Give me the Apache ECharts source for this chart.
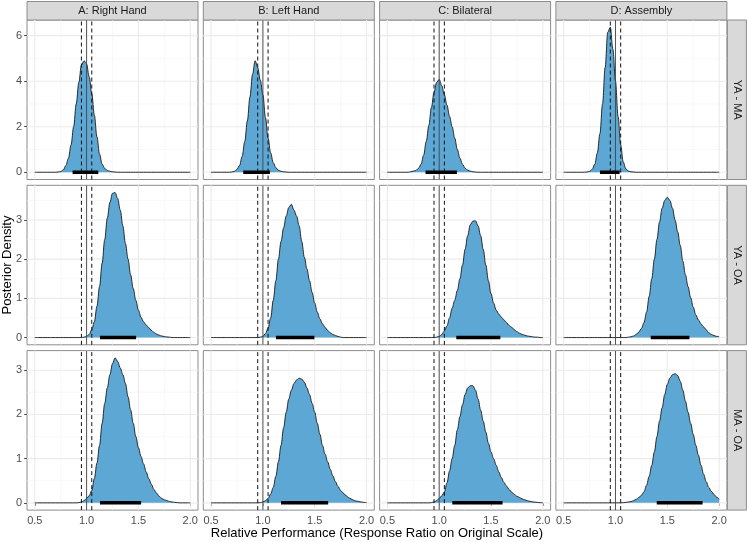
<!DOCTYPE html>
<html><head><meta charset="utf-8">
<script src="https://cdn.jsdelivr.net/npm/echarts@6/dist/echarts.min.js"></script>
<style>html,body{margin:0;padding:0;background:#fff}#c{width:747px;height:542px}</style>
</head><body><div id="c"></div>
<script>
// ---------------- DATA ----------------
const COL_LABELS = ['A: Right Hand', 'B: Left Hand', 'C: Bilateral', 'D: Assembly'];
const ROW_LABELS = ['YA - MA', 'YA - OA', 'MA - OA'];
const X_TITLE = 'Relative Performance (Response Ratio on Original Scale)';
const Y_TITLE = 'Posterior Density';

// density evaluation grid
const X = [0.5,0.525,0.55,0.575, 0.6,0.625,0.65,0.675, 0.7,0.725,0.75,0.775, 0.8,0.825,0.85,0.875,
  0.9,0.925,0.95,0.975, 1.0,1.025,1.05,1.075, 1.1,1.125,1.15,1.175, 1.2,1.225,1.25,1.275,
  1.3,1.325,1.35,1.375, 1.4,1.425,1.45,1.475, 1.5,1.525,1.55,1.575, 1.6,1.625,1.65,1.675,
  1.7,1.725,1.75,1.775, 1.8,1.825,1.85,1.875, 1.9,1.925,1.95,1.975, 2.0];

const X_TICKS = [0.5, 1.0, 1.5, 2.0];
const X_MINOR = [0.75, 1.25, 1.75];
const Y_TICKS = [[0, 2, 4, 6], [0, 1, 2, 3], [0, 1, 2, 3]];
const Y_MINOR = [[1, 3, 5], [0.5, 1.5, 2.5, 3.5], [0.5, 1.5, 2.5]];
const REF_SOLID = [1.0];
const REF_DASHED = [0.95, 1.05];

// Row YA - MA
const densA_YAMA = [0,0,0,0, 0,0,0,0, 0,0.01,0.03,0.1, 0.3,0.62,1.2,2.0, 3.0,3.95,4.7,4.9, 4.75,4.2,3.45,2.5, 1.55,0.8,0.35,0.17, 0.08,0.04,0.02,0.01, 0,0,0,0, 0,0,0,0, 0,0,0,0, 0,0,0,0, 0,0,0,0, 0,0,0,0, 0,0,0,0, 0];
const densB_YAMA = [0,0,0,0, 0,0,0,0, 0.01,0.04,0.12,0.3, 0.7,1.35,2.25,3.3, 4.3,4.9,4.6,4.05, 3.4,2.4,1.5,0.85, 0.42,0.2,0.09,0.04, 0.02,0.01,0,0, 0,0,0,0, 0,0,0,0, 0,0,0,0, 0,0,0,0, 0,0,0,0, 0,0,0,0, 0,0,0,0, 0];
const densC_YAMA = [0,0,0,0, 0,0,0,0, 0,0.02,0.05,0.08, 0.17,0.35,0.75,1.35, 2.05,2.85,3.5,3.95, 4.08,3.8,3.4,2.95, 2.45,2.0,1.5,1.0, 0.62,0.35,0.18,0.09, 0.05,0.02,0.01,0, 0,0,0,0, 0,0,0,0, 0,0,0,0, 0,0,0,0, 0,0,0,0, 0,0,0,0, 0];
const densD_YAMA = [0,0,0,0, 0,0,0,0, 0,0.01,0.04,0.12, 0.35,0.85,1.7,3.0, 4.6,6.15,6.37,5.4, 4.0,2.45,1.2,0.45, 0.15,0.05,0.02,0.01, 0,0,0,0, 0,0,0,0, 0,0,0,0, 0,0,0,0, 0,0,0,0, 0,0,0,0, 0,0,0,0, 0,0,0,0, 0];
// Row YA - OA
const densA_YAOA = [0,0,0,0, 0,0,0,0, 0,0,0,0, 0,0,0,0, 0,0,0,0.01, 0.03,0.08,0.2,0.4, 0.8,1.3,1.9,2.5, 3.05,3.45,3.68,3.7, 3.55,3.25,2.85,2.4, 2.0,1.6,1.25,0.95, 0.7,0.52,0.4,0.32, 0.25,0.18,0.13,0.09, 0.06,0.04,0.025,0.015, 0.01,0,0,0, 0,0,0,0, 0];
const densB_YAOA = [0,0,0,0, 0,0,0,0, 0,0,0,0, 0,0,0,0, 0,0,0,0.01, 0.03,0.1,0.24,0.5, 0.95,1.45,2.0,2.45, 2.8,3.1,3.32,3.4, 3.25,3.1,2.85,2.45, 2.05,1.75,1.45,1.15, 0.88,0.65,0.48,0.35, 0.26,0.18,0.12,0.08, 0.05,0.03,0.01,0, 0,0,0,0, 0,0,0,0, 0];
const densC_YAOA = [0,0,0,0, 0,0,0,0, 0,0,0,0, 0,0,0,0, 0,0,0,0.01, 0.03,0.08,0.17,0.3, 0.5,0.75,0.95,1.2, 1.5,1.85,2.25,2.6, 2.88,2.97,2.98,2.85, 2.6,2.25,1.85,1.45, 1.12,0.88,0.7,0.6, 0.52,0.45,0.38,0.31, 0.26,0.2,0.15,0.11, 0.08,0.06,0.04,0.03, 0.02,0.01,0.01,0, 0];
const densD_YAOA = [0,0,0,0, 0,0,0,0, 0,0,0,0, 0,0,0,0, 0,0,0,0, 0,0,0,0, 0,0.01,0.02,0.04, 0.08,0.14,0.23,0.38, 0.65,1.05,1.5,2.0, 2.5,2.95,3.3,3.5, 3.58,3.5,3.3,3.0, 2.7,2.35,1.95,1.6, 1.3,1.02,0.78,0.58, 0.45,0.35,0.27,0.2, 0.12,0.08,0.05,0.03, 0.02];
// Row MA - OA
const densA_MAOA = [0,0,0,0, 0,0,0,0, 0,0,0,0, 0,0,0,0, 0,0.005,0.02,0.05, 0.1,0.16,0.28,0.55, 0.9,1.3,1.8,2.25, 2.6,2.9,3.15,3.28, 3.2,3.05,2.9,2.7, 2.4,2.1,1.8,1.5, 1.25,1.05,0.88,0.7, 0.55,0.42,0.3,0.22, 0.15,0.1,0.07,0.05, 0.03,0.02,0.01,0.005, 0,0,0,0, 0];
const densB_MAOA = [0,0,0,0, 0,0,0,0, 0,0,0,0, 0,0,0,0, 0,0,0,0.005, 0.02,0.05,0.1,0.2, 0.35,0.6,0.93,1.3, 1.7,2.05,2.35,2.55, 2.7,2.78,2.82,2.8, 2.73,2.6,2.45,2.25, 2.05,1.8,1.55,1.3, 1.1,0.93,0.76,0.61, 0.48,0.37,0.28,0.22, 0.17,0.12,0.09,0.06, 0.04,0.03,0.02,0.01, 0.005];
const densC_MAOA = [0,0,0,0, 0,0,0,0, 0,0,0,0, 0,0,0,0, 0,0.005,0.02,0.05, 0.1,0.16,0.25,0.45, 0.72,1.0,1.3,1.65, 1.95,2.22,2.45,2.6, 2.65,2.65,2.55,2.35, 2.1,1.85,1.6,1.35, 1.15,1.0,0.85,0.7, 0.57,0.46,0.38,0.3, 0.24,0.19,0.15,0.12, 0.09,0.07,0.05,0.035, 0.025,0.015,0.01,0.005, 0];
const densD_MAOA = [0,0,0,0, 0,0,0,0, 0,0,0,0, 0,0,0,0, 0,0,0,0, 0,0,0,0.005, 0.01,0.02,0.03,0.05, 0.08,0.12,0.17,0.25, 0.4,0.6,0.85,1.15, 1.5,1.85,2.15,2.45, 2.68,2.82,2.9,2.92, 2.88,2.75,2.55,2.3, 2.05,1.8,1.55,1.3, 1.08,0.85,0.65,0.48, 0.35,0.26,0.19,0.13, 0.08];

// 95% credible intervals (low / high), columns A..D
const CI_LOW_YAMA  = [0.865, 0.81, 0.868, 0.85];
const CI_HIGH_YAMA = [1.113, 1.068, 1.171, 1.04];
const CI_LOW_YAOA  = [1.129, 1.126, 1.165, 1.34];
const CI_HIGH_YAOA = [1.478, 1.497, 1.59, 1.714];
const CI_LOW_MAOA  = [1.129, 1.175, 1.126, 1.398];
const CI_HIGH_MAOA = [1.526, 1.63, 1.611, 1.84];

// ---------------- BUILD ----------------
const DENS = [
  [densA_YAMA, densB_YAMA, densC_YAMA, densD_YAMA],
  [densA_YAOA, densB_YAOA, densC_YAOA, densD_YAOA],
  [densA_MAOA, densB_MAOA, densC_MAOA, densD_MAOA]
];
const CI_LOW = [CI_LOW_YAMA, CI_LOW_YAOA, CI_LOW_MAOA];
const CI_HIGH = [CI_HIGH_YAMA, CI_HIGH_YAOA, CI_HIGH_MAOA];

const FONT = 'Liberation Sans, Arial, Helvetica, sans-serif';
const PL = 27, PT = 20, PW = 171, PH = 159.5, GX = 176.3, GY = 165.3;
const FILL = '#5DA7D4';
const BORDER = '#8c8c8c';

const xSpan = X[X.length - 1] - X[0];
const xMin = X[0] - 0.05 * xSpan, xMax = X[X.length - 1] + 0.05 * xSpan;

const grids = [], xAxes = [], yAxes = [], series = [], graphics = [];

function vline(idx, v, y0, y1, style, z) {
  series.push({ type: 'line', xAxisIndex: idx, yAxisIndex: idx, data: [[v, y0], [v, y1]],
    showSymbol: false, symbol: 'none', silent: true, animation: false, z: z, lineStyle: style });
}
function hline(idx, v, x0, x1, style, z) {
  series.push({ type: 'line', xAxisIndex: idx, yAxisIndex: idx, data: [[x0, v], [x1, v]],
    showSymbol: false, symbol: 'none', silent: true, animation: false, z: z, lineStyle: style });
}

const MAJOR = { color: '#EBEBEB', width: 1.1 };
const MINOR = { color: '#F4F4F4', width: 0.6 };

for (let r = 0; r < 3; r++) {
  let rmax = 0;
  DENS[r].forEach(a => a.forEach(v => { if (v > rmax) rmax = v; }));
  const yMin = -0.05 * rmax, yMax = 1.05 * rmax;
  for (let c = 0; c < 4; c++) {
    const idx = r * 4 + c;
    grids.push({ left: PL + c * GX, top: PT + r * GY, width: PW, height: PH, show: true,
      backgroundColor: '#fff', borderColor: BORDER, borderWidth: 1 });
    xAxes.push({ gridIndex: idx, type: 'value', min: xMin, max: xMax,
      axisLine: { show: false }, splitLine: { show: false },
      axisTick: { show: r === 2, customValues: X_TICKS, length: 3, lineStyle: { color: '#555', width: 1 } },
      axisLabel: { show: r === 2, customValues: X_TICKS, formatter: v => v.toFixed(1), color: '#4D4D4D',
        fontSize: 11, fontFamily: FONT, margin: 5 } });
    yAxes.push({ gridIndex: idx, type: 'value', min: yMin, max: yMax,
      axisLine: { show: false }, splitLine: { show: false },
      axisTick: { show: c === 0, customValues: Y_TICKS[r], length: 3, lineStyle: { color: '#555', width: 1 } },
      axisLabel: { show: c === 0, customValues: Y_TICKS[r], color: '#4D4D4D', fontSize: 11, fontFamily: FONT, margin: 5 } });

    // grid lines
    X_MINOR.forEach(v => vline(idx, v, yMin, yMax, MINOR, 1));
    Y_MINOR[r].filter(v => v > yMin && v < yMax).forEach(v => hline(idx, v, xMin, xMax, MINOR, 1));
    X_TICKS.forEach(v => vline(idx, v, yMin, yMax, MAJOR, 1));
    Y_TICKS[r].filter(v => v > yMin && v < yMax).forEach(v => hline(idx, v, xMin, xMax, MAJOR, 1));

    // density
    series.push({ type: 'line', xAxisIndex: idx, yAxisIndex: idx,
      data: X.map((x, i) => [x, DENS[r][c][i]]),
      smooth: 0.35, smoothMonotone: 'x', showSymbol: false, symbol: 'none', silent: true, animation: false, z: 3,
      lineStyle: { color: '#1a1a1a', width: 0.9 },
      areaStyle: { color: FILL, opacity: 1 } });

    // reference lines
    REF_SOLID.forEach(v => vline(idx, v, yMin, yMax, { color: '#444', width: 0.9 }, 4));
    REF_DASHED.forEach(v => vline(idx, v, yMin, yMax, { color: '#111', width: 1, type: [4, 3] }, 4));

    // credible interval
    series.push({ type: 'line', xAxisIndex: idx, yAxisIndex: idx,
      data: [[CI_LOW[r][c], 0], [CI_HIGH[r][c], 0]],
      showSymbol: false, symbol: 'none', silent: true, animation: false, z: 5,
      lineStyle: { color: '#000', width: 3.5, cap: 'butt' } });
  }
  // right strip
  const top = PT + r * GY;
  graphics.push({ type: 'rect', shape: { x: PL + 3 * GX + PW + 0.5, y: top, width: 19, height: PH },
    style: { fill: '#D9D9D9', stroke: BORDER, lineWidth: 1 }, silent: true });
  graphics.push({ type: 'text', x: PL + 3 * GX + PW + 10, y: top + PH / 2, rotation: -Math.PI / 2,
    style: { text: ROW_LABELS[r], fill: '#1A1A1A', fontSize: 11, fontFamily: FONT, align: 'center', verticalAlign: 'middle',
      textAlign: 'center', textVerticalAlign: 'middle' }, silent: true });
}
for (let c = 0; c < 4; c++) {
  graphics.push({ type: 'rect', shape: { x: PL + c * GX, y: 1.5, width: PW, height: PT - 1.5 },
    style: { fill: '#D9D9D9', stroke: BORDER, lineWidth: 1 }, silent: true });
  graphics.push({ type: 'text', x: PL + c * GX + PW / 2, y: 11,
    style: { text: COL_LABELS[c], fill: '#1A1A1A', fontSize: 11, fontFamily: FONT, align: 'center', verticalAlign: 'middle',
      textAlign: 'center', textVerticalAlign: 'middle' }, silent: true });
}
// axis titles
graphics.push({ type: 'text', x: 7.5, y: PT + (2 * GY + PH) / 2, rotation: Math.PI / 2,
  style: { text: Y_TITLE, fill: '#000', fontSize: 13, fontFamily: FONT, align: 'center', verticalAlign: 'middle',
    textAlign: 'center', textVerticalAlign: 'middle' }, silent: true });
graphics.push({ type: 'text', x: PL + (3 * GX + PW) / 2, y: 533,
  style: { text: X_TITLE, fill: '#000', fontSize: 13, fontFamily: FONT, align: 'center', verticalAlign: 'middle',
    textAlign: 'center', textVerticalAlign: 'middle' }, silent: true });

const chart = echarts.init(document.getElementById('c'), null, { renderer: 'canvas' });
chart.setOption({
  backgroundColor: '#fff',
  animation: false,
  grid: grids, xAxis: xAxes, yAxis: yAxes, series: series, graphic: graphics
});
</script>
</body></html>
